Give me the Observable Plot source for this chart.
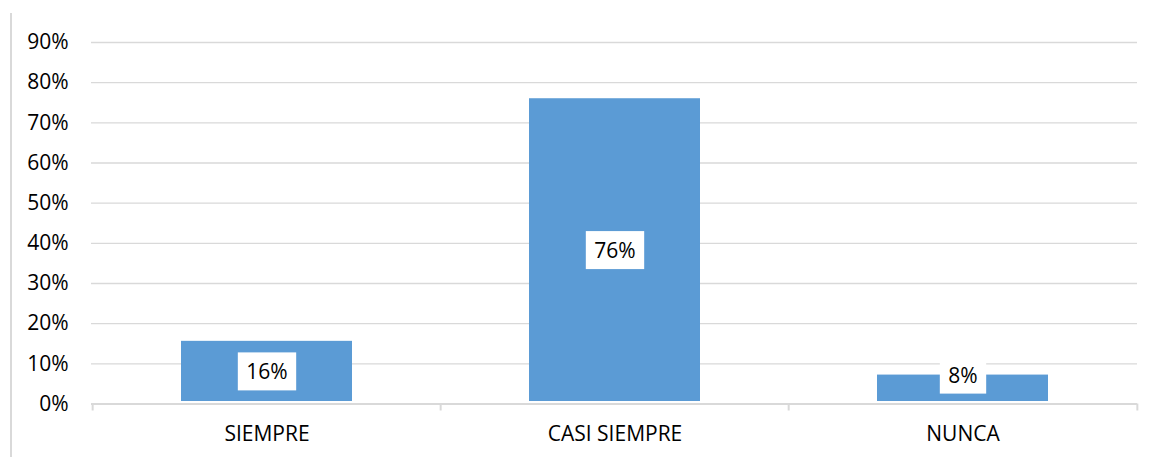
<!DOCTYPE html>
<html><head><meta charset="utf-8">
<script src="https://cdn.jsdelivr.net/npm/d3@7"></script>
<script src="https://cdn.jsdelivr.net/npm/@observablehq/plot@0.6"></script>
<style>
body{margin:0;background:#fff;}
#chart{position:relative;width:1152px;height:457px;overflow:hidden;}
#border{position:absolute;left:10px;top:13px;width:0;height:444px;border-left:2px solid #D9D9D9;}
#chart svg{position:absolute;left:0;top:0;}
</style></head><body>
<div id="chart"><div id="border"></div></div>
<script>
const categories = ["SIEMPRE", "CASI SIEMPRE", "NUNCA"];
const values = [15.6, 76, 7.2];
const labels = ["16%", "76%", "8%"];
const yTicks = [0, 10, 20, 30, 40, 50, 60, 70, 80, 90];

const W = 1152, H = 457, ML = 91, MR = 15, MT = 42, MB = 53.5;
const data = categories.map((c, i) => ({cat: c, v: values[i], label: labels[i]}));
const step = (W - ML - MR) / categories.length;
const grid = "#D9D9D9";

const plot = Plot.plot({
  width: W, height: H,
  marginLeft: ML, marginRight: MR, marginTop: MT, marginBottom: MB,
  style: {fontFamily: "'Open Sans'", fontSize: "21px", color: "#000", background: "transparent", overflow: "visible"},
  x: {domain: categories, paddingInner: 0.51, paddingOuter: 0.255, label: null},
  y: {domain: [0, 90], label: null},
  marks: [
    Plot.ruleY(yTicks.filter(d => d > 0), {stroke: grid, strokeWidth: 1.3}),
    Plot.ruleY([0], {stroke: grid, strokeWidth: 2}),
    Plot.ruleX(categories, {x: d => d, y1: 0, y2: 0, insetBottom: -7, dx: -step / 2, stroke: grid, strokeWidth: 2}),
    Plot.ruleX(categories.slice(-1), {x: d => d, y1: 0, y2: 0, insetBottom: -7, dx: step / 2, stroke: grid, strokeWidth: 2}),
    Plot.barY(data, {x: "cat", y: "v", fill: "#5B9BD5", insetBottom: 2.5}),
    Plot.text(data, {x: "cat", y: d => Math.max(d.v / 2, 7), text: "label", fill: "#000", fontSize: 21, className: "lbl"}),
    Plot.axisY({ticks: yTicks, tickFormat: d => d + "%", tickSize: 0, tickPadding: 23, fontSize: 21, fill: "#000"}),
    Plot.axisX({tickSize: 0, tickPadding: 22, fontSize: 21, fill: "#000"})
  ]
});
document.getElementById("chart").appendChild(plot);

// white boxes behind data labels
plot.querySelectorAll("g.lbl text").forEach(t => {
  const bb = t.getBBox();
  const r = document.createElementNS("http://www.w3.org/2000/svg", "rect");
  const w = bb.width + 17, h = 38;
  r.setAttribute("x", bb.x + bb.width / 2 - w / 2);
  r.setAttribute("y", bb.y + bb.height / 2 - h / 2);
  r.setAttribute("width", w);
  r.setAttribute("height", h);
  r.setAttribute("fill", "#fff");
  if (t.getAttribute("transform")) r.setAttribute("transform", t.getAttribute("transform"));
  t.parentNode.insertBefore(r, t);
});
</script>
</body></html>
